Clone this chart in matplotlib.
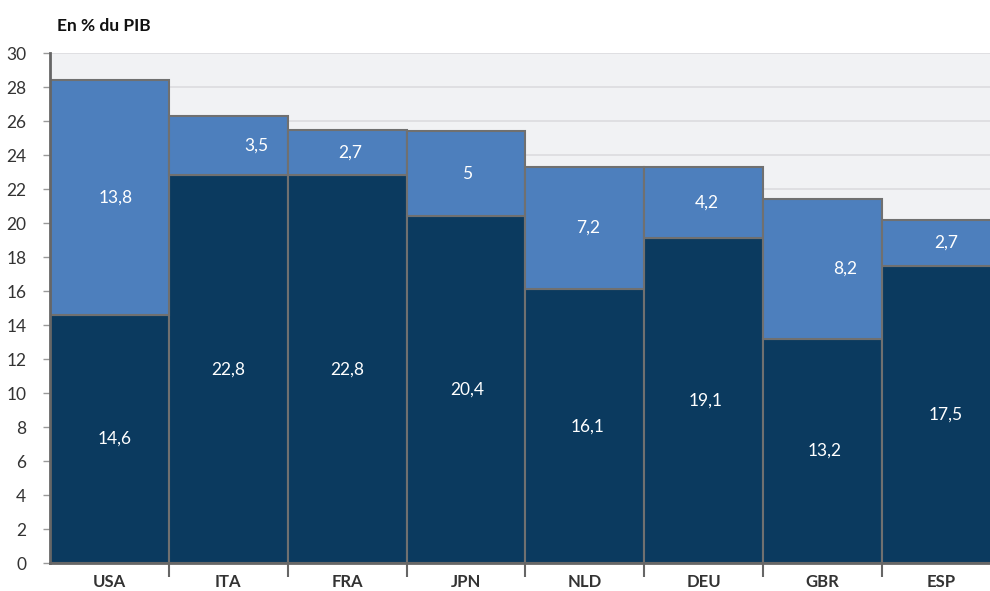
import matplotlib
matplotlib.use("Agg")
import matplotlib.pyplot as plt
import numpy as np

plt.rcParams['font.family'] = ['Lato', 'DejaVu Sans']

countries = ["USA", "ITA", "FRA", "JPN", "NLD", "DEU", "GBR", "ESP"]
bottom_vals = [14.6, 22.8, 22.8, 20.4, 16.1, 19.1, 13.2, 17.5]
top_vals = [13.8, 3.5, 2.7, 5, 7.2, 4.2, 8.2, 2.7]
yticks = list(range(0, 31, 2))

# small horizontal nudges of the top-segment labels (as in the reference)
top_label_dx = [0.05, 0.24, 0.03, 0.01, 0.03, 0.03, 0.19, 0.04]
bottom_label_dx = [0.04, 0.0, 0.0, 0.01, 0.02, 0.02, 0.02, 0.04]

dark = "#0b3a5f"
light = "#4d7fbd"
edge = "#707070"

fig = plt.figure(figsize=(9.9, 5.91), dpi=100)
ax = fig.add_axes([50/990, 1-563/591, 940/990, (563-53)/591])
ax.set_facecolor("#f1f2f4")

x = np.arange(len(countries))
ax.bar(x, bottom_vals, width=1.0, color=dark, edgecolor=edge, linewidth=1.5, zorder=3)
ax.bar(x, top_vals, width=1.0, bottom=bottom_vals, color=light, edgecolor=edge, linewidth=1.5, zorder=3)

for i in range(len(countries)):
    b, t = bottom_vals[i], top_vals[i]
    ax.text(x[i] + bottom_label_dx[i], b/2, f"{b:g}".replace(".", ","), color="white",
            ha="center", va="center", fontsize=12.5, zorder=5)
    ax.text(x[i] + top_label_dx[i], b + t/2, f"{t:g}".replace(".", ","), color="white",
            ha="center", va="center", fontsize=12.5, zorder=5)

ax.set_xlim(-0.5, 7.41)
ax.set_ylim(0, 30)
ax.set_yticks(yticks)
ax.set_yticklabels([str(v) for v in yticks], fontsize=12.5, color="#333333")
ax.yaxis.grid(True, color="#dcdcdf", linewidth=1.2, zorder=0)
ax.set_axisbelow(True)
ax.tick_params(axis="y", length=5, width=1, color="#999999", pad=12)

ax.set_xticks(x)
ax.set_xticklabels(countries, fontsize=12, fontweight="bold", color="#333333")
ax.set_xticks(np.arange(0.5, 7.0, 1.0), minor=True)
ax.tick_params(axis="x", which="major", length=0, pad=8)
ax.tick_params(axis="x", which="minor", length=10, width=1.5, color="#666666")

for s in ["top", "right"]:
    ax.spines[s].set_visible(False)
for s in ["left", "bottom"]:
    ax.spines[s].set_color("#666666")
    ax.spines[s].set_linewidth(2)
    ax.spines[s].set_zorder(6)

fig.text(57/990, 1-26/591, "En % du PIB", fontsize=12.5, fontweight="bold",
         color="#111111", ha="left", va="center")

fig.savefig("out.png", dpi=100)
